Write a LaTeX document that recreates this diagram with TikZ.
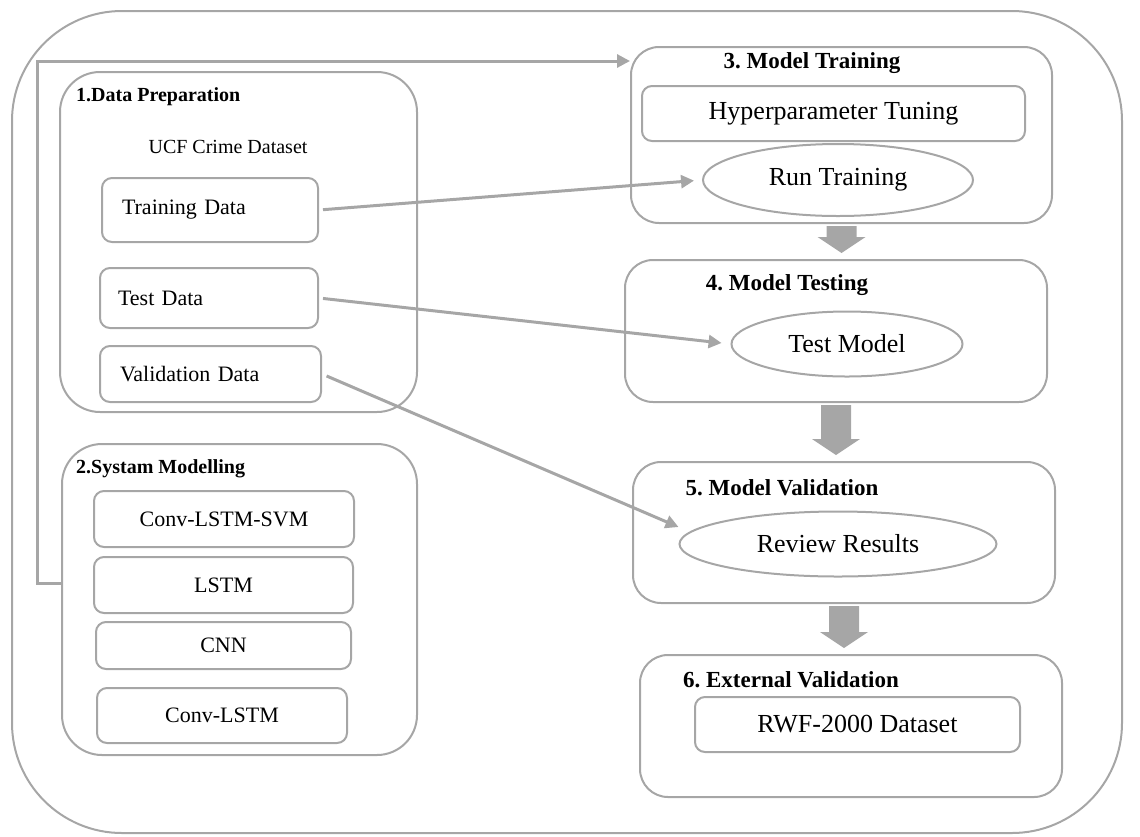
\documentclass[tikz,border=0pt]{standalone}
\usepackage{fontspec}
\setmainfont{Liberation Serif}
\usetikzlibrary{positioning}
\usetikzlibrary{arrows.meta,shapes.geometric}
\usetikzlibrary{calc}

\definecolor{linegray}{HTML}{A6A6A6}

% thick grey block arrow from one stage down to the next
\newcommand{\stagearrow}[2]{%
\fill[linegray] ($(#1.south)+(-15,2)$) -- ($(#1.south)+(15,2)$)
  -- ($(#1.south |- #2.north)+(15,-22)$) -- ($(#1.south |- #2.north)+(24,-22)$)
  -- ($(#1.south |- #2.north)+(0,-6)$) -- ($(#1.south |- #2.north)+(-24,-22)$)
  -- ($(#1.south |- #2.north)+(-15,-22)$) -- cycle;}

\begin{document}
\frenchspacing
\begin{tikzpicture}[x=1pt, y=-1pt,
  stage/.style 2 args={draw=linegray, line width=2pt, rounded corners=28pt, inner sep=0pt, minimum width=#1, minimum height=#2},
  item/.style 2 args={draw=linegray, line width=2pt, rounded corners=10pt, inner sep=0pt, minimum width=#1, minimum height=#2},
  task/.style 2 args={draw=linegray, line width=2pt, ellipse, inner sep=0pt, minimum width=#1, minimum height=#2},
  leftfont/.style={font=\fontsize{22}{26}\selectfont},
  rightfont/.style={font=\fontsize{26}{30}\selectfont},
  lefttitle/.style={font=\fontsize{20}{24}\selectfont\bfseries, inner sep=0pt, anchor=west},
  righttitle/.style={font=\fontsize{23}{27}\selectfont\bfseries, inner sep=0pt},
  flow/.style={draw=linegray, line width=3pt, -{Triangle[length=13pt,width=13pt]}}]

\useasboundingbox (0,0) rectangle (1140,836);

\node[stage={1110pt}{822pt}, rounded corners=110pt] (frame) at (567,422) {};

% 1. data preparation
\node[stage={357pt}{340pt}, rounded corners=40pt] (dataprep) at (238.5,242) {};
\node[lefttitle] (prepttl) at (76,97) {1.Data Preparation};
\node[font=\fontsize{20}{24}\selectfont] (ucf) at (228,147) {UCF Crime Dataset};
\node[item={216pt}{64pt}, leftfont, text width=176pt, align=left] (train) at (210,210) {Training Data};
\node[item={218pt}{60pt}, leftfont, text width=182pt, align=left] (test) at (209,298) {Test Data};
\node[item={221pt}{56pt}, leftfont, text width=181pt, align=left] (valid) at (210.5,374) {Validation Data};

% 2. system modelling
\node[stage={355pt}{311pt}, rounded corners=40pt] (sysmod) at (239.5,599.5) {};
\node[lefttitle] (systtl) at (76,469) {2.Systam Modelling};
\node[item={260pt}{56pt}, leftfont] (svm) at (224,519) {Conv-LSTM-SVM};
\node[item={259pt}{56pt}, leftfont] (lstm) at (223.5,585) {LSTM};
\node[item={255pt}{47pt}, leftfont] (cnn) at (223.5,645.5) {CNN};
\node[item={250pt}{55pt}, leftfont] (convlstm) at (222,715.5) {Conv-LSTM};

% 3. - 6. right column
\node[stage={421pt}{176pt}] (mtrain) at (841.5,135) {};
\node[righttitle] (trainttl) at (812,63) {3. Model Training};
\node[item={383pt}{55pt}, rightfont] (hyper) at (833.5,113.5) {Hyperparameter Tuning};
\node[task={270pt}{72pt}, rightfont] (run) at (838,180) {Run Training};

\node[stage={422pt}{142pt}] (mtest) at (836,331) {};
\node[righttitle] (testttl) at (787,285) {4. Model Testing};
\node[task={231pt}{65pt}, rightfont] (testmodel) at (847,344) {Test Model};

\node[stage={422pt}{141pt}] (mval) at (844,532.5) {};
\node[righttitle] (valttl) at (782,488) {5. Model Validation};
\node[task={317pt}{65pt}, rightfont] (review) at (838,544) {Review Results};

\node[stage={422pt}{142pt}] (mext) at (851,726) {};
\node[righttitle] (extttl) at (791,680) {6. External Validation};
\node[item={325pt}{55pt}, rightfont] (rwf) at (857.5,724.5) {RWF-2000 Dataset};

\stagearrow{mtrain}{mtest}
\stagearrow{mtest}{mval}
\stagearrow{mval}{mext}

\draw[flow, shorten <=4pt, shorten >=8pt] (train.east) -- (run.west);
\draw[flow, shorten <=4pt, shorten >=9pt] (test.east) -- (testmodel.west);
\draw[flow, shorten <=5pt] (valid.east) -- ([yshift=17pt]review.west);
\draw[flow] ([yshift=16pt]sysmod.west) -- ++(-24,0) |- ([yshift=-15pt]mtrain.north west);

\end{tikzpicture}
\end{document}
